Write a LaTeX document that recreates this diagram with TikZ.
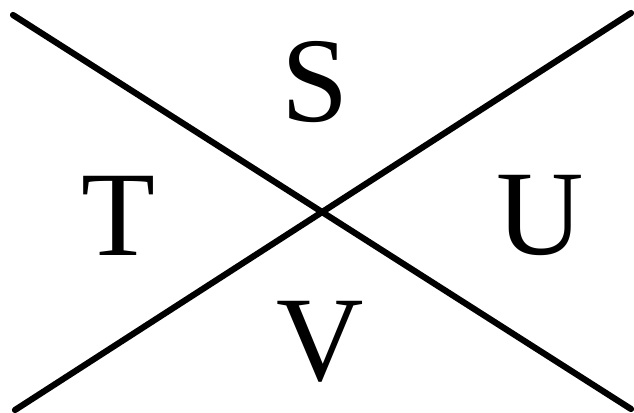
\documentclass[tikz,border=0pt]{standalone}
\usepackage{fontspec}
\setmainfont{Liberation Serif}
\begin{document}
\begin{tikzpicture}[x=1pt,y=1pt,
  letter/.style={font=\fontsize{121}{121}\selectfont, inner sep=0pt, anchor=center},
  stroke/.style={line width=6.2pt, line cap=round}]
\useasboundingbox (0,0) rectangle (634,412);
\coordinate (a1) at (13,397);
\coordinate (a2) at (631,3);
\coordinate (b1) at (15,2);
\coordinate (b2) at (631,399);
\draw[stroke] (a1) -- (a2);
\draw[stroke] (b1) -- (b2);
\node[letter] (S) at (315,330) {S};
\node[letter] (T) at (118,196) {T};
\node[letter] (U) at (540,197) {U};
\node[letter] (V) at (320,70) {V};
\end{tikzpicture}
\end{document}
